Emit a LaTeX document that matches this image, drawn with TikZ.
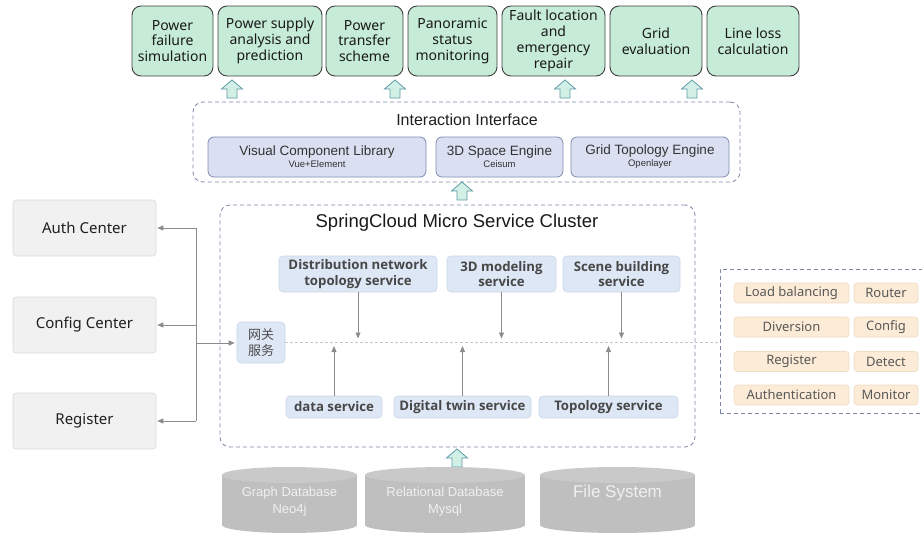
\documentclass[tikz,border=0pt]{standalone}
\usepackage{fontspec}
\setmainfont{Noto Sans}
\newfontfamily\arialf{Liberation Sans}
\newfontfamily\cjkf{Noto Sans CJK SC}
\newfontfamily\svcf{Open Sans}
\usetikzlibrary{arrows.meta}
\definecolor{appfill}{HTML}{C6EBD7}
\definecolor{appline}{HTML}{404040}
\definecolor{arrfill}{HTML}{D2F0E6}
\definecolor{arrline}{HTML}{5E9AA6}
\definecolor{dashline}{HTML}{7D88A8}
\definecolor{engfill}{HTML}{DAE0F2}
\definecolor{engline}{HTML}{7F8BB0}
\definecolor{svcfill}{HTML}{DDE7F5}
\definecolor{svcline}{HTML}{C9D6EA}
\definecolor{leftfill}{HTML}{F1F1F1}
\definecolor{leftline}{HTML}{DADADA}
\definecolor{peachfill}{HTML}{FCEBD6}
\definecolor{peachline}{HTML}{EEDCC4}
\definecolor{dbfill}{HTML}{BFBFBF}
\definecolor{dbtop}{HTML}{C9C9C9}
\definecolor{conn}{HTML}{8C8C8C}
\begin{document}
\begin{tikzpicture}[x=1pt,y=-1pt,
  appbox/.style={draw=appline, fill=appfill, rounded corners=9pt, line width=0.9pt,
    align=center, inner sep=0pt, minimum height=70pt, text=black!90,
    font=\fontsize{14}{15.8}\selectfont},
  dashbox/.style={draw=dashline, dashed, dash pattern=on 4pt off 3pt, rounded corners=10pt,
    line width=0.8pt, inner sep=0pt},
  engbox/.style={draw=engline, fill=engfill, rounded corners=6pt, line width=0.8pt,
    align=center, inner sep=0pt, minimum height=40pt, text=black!80, font=\arialf},
  svcbox/.style={draw=svcline, fill=svcfill, rounded corners=4pt, line width=0.6pt,
    align=center, inner sep=0pt, text=black!72, font=\svcf\bfseries\fontsize{13.2}{15.5}\selectfont},
  leftbox/.style={draw=leftline, fill=leftfill, rounded corners=3pt, line width=0.6pt,
    inner sep=0pt, minimum width=143pt, minimum height=56pt, text=black!88,
    font=\fontsize{15}{18}\selectfont},
  peach/.style={draw=peachline, fill=peachfill, rounded corners=3pt, line width=0.6pt,
    inner sep=0pt, minimum height=20pt, text=black!65, font=\fontsize{13}{15}\selectfont},
  dbtext/.style={text=white!94!black, align=center, font=\arialf\fontsize{13}{17}\selectfont},
  varrow/.style={draw=conn, line width=0.9pt, -{Triangle[length=6pt,width=5pt]}},
  gline/.style={draw=conn, line width=0.9pt},
  bigup/.pic={\filldraw[fill=arrfill, draw=arrline, line width=0.8pt]
     (0,0) -- (10.5,9) -- (5,9) -- (5,18) -- (-5,18) -- (-5,9) -- (-10.5,9) -- cycle;}
]
\useasboundingbox (0,0) rectangle (922,533);
\clip (0,0) rectangle (922,533);

% ---------- top application boxes ----------
\node[appbox, minimum width=81pt]  (a1) at (172.5,41) {Power\\failure\\simulation};
\node[appbox, minimum width=104pt] (a2) at (270,41) {Power supply\\analysis and\\prediction};
\node[appbox, minimum width=77pt]  (a3) at (364.5,41) {Power\\transfer\\scheme};
\node[appbox, minimum width=89pt]  (a4) at (452.5,41) {Panoramic\\status\\monitoring};
\node[appbox, minimum width=103pt] (a5) at (553.5,41) {Fault location\\and\\emergency\\repair};
\node[appbox, minimum width=92pt]  (a6) at (656,41) {Grid\\evaluation};
\node[appbox, minimum width=92pt]  (a7) at (753,41) {Line loss\\calculation};

\pic at (232,80) {bigup};
\pic at (395,80) {bigup};
\pic at (565,80) {bigup};
\pic at (692,80) {bigup};

% ---------- interaction interface ----------
\node[dashbox, minimum width=547pt, minimum height=80pt] (ii) at (466.5,142) {};
\node[font=\arialf\fontsize{16}{18}\selectfont, text=black!88] (iit) at (467,120) {Interaction Interface};
\node[engbox, minimum width=218pt] (e1) at (317,157)
  {{\fontsize{13.5}{15}\selectfont Visual Component Library}\\[0pt]{\fontsize{9.5}{11}\selectfont Vue+Element}};
\node[engbox, minimum width=127pt] (e2) at (499.5,157)
  {{\fontsize{13.5}{15}\selectfont 3D Space Engine}\\[0pt]{\fontsize{9.5}{11}\selectfont Ceisum}};
\node[engbox, minimum width=158pt] (e3) at (650,157)
  {{\fontsize{13.5}{15}\selectfont Grid Topology Engine}\\[0pt]{\fontsize{9.5}{11}\selectfont Openlayer}};

\pic at (462,182) {bigup};

% ---------- micro service cluster ----------
\node[dashbox, minimum width=475pt, minimum height=242pt] (cl) at (457.5,326) {};
\node[font=\arialf\fontsize{18.5}{20}\selectfont, text=black!90] (clt) at (457,223) {SpringCloud Micro Service Cluster};

\node[svcbox, minimum width=158pt, minimum height=36pt] (s1) at (358,274) {Distribution network\\topology service};
\node[svcbox, minimum width=109pt, minimum height=36pt] (s2) at (501.5,274) {3D modeling\\service};
\node[svcbox, minimum width=117pt, minimum height=36pt] (s3) at (621.5,274) {Scene building\\service};

\node[svcbox, minimum width=96pt, minimum height=22pt]  (b1) at (334,407) {data service};
\node[svcbox, minimum width=137pt, minimum height=22pt] (b2) at (462.5,407) {Digital twin service};
\node[svcbox, minimum width=139pt, minimum height=22pt] (b3) at (608.5,407) {Topology service};

\node[svcbox, font=\cjkf\fontsize{13}{16}\selectfont, text=black!70, minimum width=48pt, minimum height=41pt] (gw) at (261,342.5) {网关\\服务};

\coordinate (mtop) at (500,338.5);
\coordinate (mbot) at (500,346);
\draw[varrow] (s1.south) -- (s1.south |- mtop);
\draw[varrow] (s2.south) -- (s2.south |- mtop);
\draw[varrow] (s3.south) -- (s3.south |- mtop);
\draw[varrow] (b1.north) -- (b1.north |- mbot);
\draw[varrow] (b2.north) -- (b2.north |- mbot);
\draw[varrow] (b3.north) -- (b3.north |- mbot);

% ---------- right gateway feature box ----------
\node[dashbox, rounded corners=0pt, minimum width=215pt, minimum height=144pt] (rb) at (827.5,341) {};
\node[peach, minimum width=115pt] (p1) at (791.5,293) {Load balancing};
\node[peach, minimum width=64pt]  (q1) at (886,293) {Router};
\node[peach, minimum width=115pt] (p2) at (791.5,327) {Diversion};
\node[peach, minimum width=64pt]  (q2) at (886,327) {Config};
\node[peach, minimum width=115pt] (p3) at (791.5,361.5) {Register};
\node[peach, minimum width=64pt]  (q3) at (886,361.5) {Detect};
\node[peach, minimum width=115pt] (p4) at (791.5,395) {Authentication};
\node[peach, minimum width=64pt]  (q4) at (886,395) {Monitor};

\draw[draw=black!22, dashed, dash pattern=on 3pt off 2pt, line width=0.6pt] (gw.east) -- (gw.east -| rb.west);

% ---------- left boxes ----------
\node[leftbox] (auth) at (84.5,228) {Auth Center};
\node[leftbox] (cfg)  at (84.5,325) {Config Center};
\node[leftbox] (reg)  at (84.5,421) {Register};

\coordinate (jx) at (196,343);
\draw[gline] (jx |- auth.east) -- (jx |- reg.east);
\draw[varrow] (jx |- auth.east) -- ([xshift=1pt]auth.east);
\draw[varrow] (jx |- cfg.east) -- ([xshift=1pt]cfg.east);
\draw[varrow] (jx |- reg.east) -- ([xshift=1pt]reg.east);
\draw[varrow] (jx) -- ([xshift=-2pt]gw.west |- jx);

% ---------- databases ----------
\pic at (457,449) {bigup};

\foreach \xa/\xb in {222/357, 365/525, 540/695}{
  \fill[dbfill] (\xa,475) rectangle (\xb,525);
  \fill[dbfill] ({(\xa+\xb)/2},525) ellipse [x radius={(\xb-\xa)/2*1pt}, y radius=8pt];
  \fill[dbtop] ({(\xa+\xb)/2},475) ellipse [x radius={(\xb-\xa)/2*1pt}, y radius=8pt];
}
\node[dbtext] (d1) at (289.5,501.5) {Graph Database\\Neo4j};
\node[dbtext] (d2) at (445,501.5) {Relational Database\\Mysql};
\node[dbtext, font=\arialf\fontsize{17}{19}\selectfont] (d3) at (617.5,493) {File System};
\end{tikzpicture}
\end{document}
